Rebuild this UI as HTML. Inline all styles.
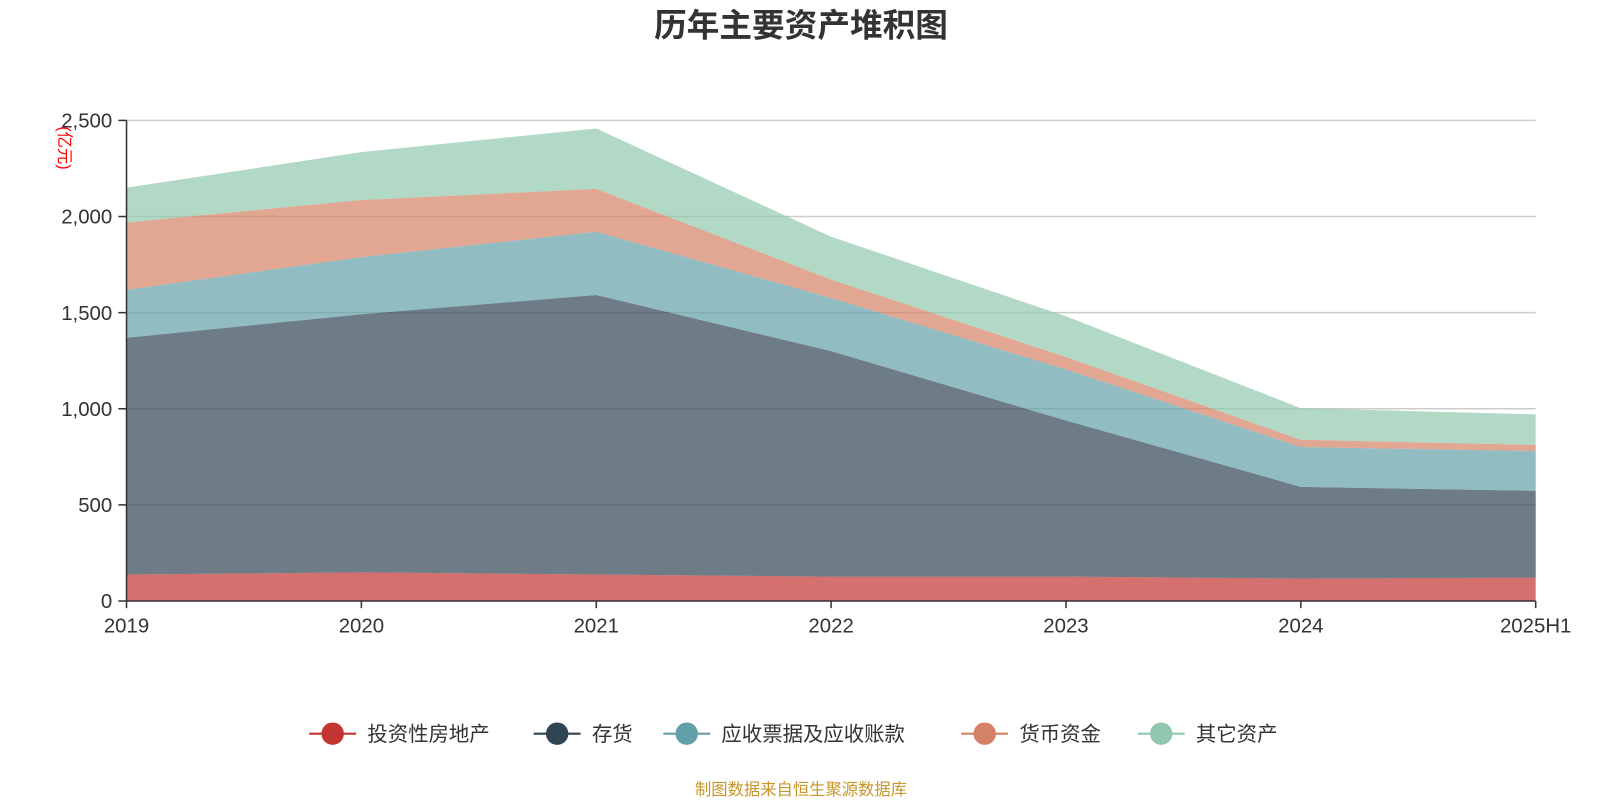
<!DOCTYPE html>
<html><head><meta charset="utf-8"><style>
body{margin:0;background:#fff;width:1600px;height:800px;overflow:hidden;font-family:"Liberation Sans","Noto Sans CJK SC",sans-serif;}
</style></head><body>
<svg id="chart" width="1600" height="800" xmlns="http://www.w3.org/2000/svg">
<g transform="scale(1.0204)">
<text x="785" y="36" text-anchor="middle" font-size="32" font-weight="bold" fill="#333" font-family="Liberation Sans, Noto Sans CJK SC, sans-serif">历年主要资产堆积图</text>
<text transform="translate(58,145) rotate(90)" text-anchor="middle" font-size="16" fill="#ff0000" font-family="Liberation Sans, Noto Sans CJK SC, sans-serif">(亿元)</text>
<g id="grid"></g><g id="areas"></g><g id="axes"></g><g id="legend"></g>
<text x="785" y="779" text-anchor="middle" font-size="16" fill="#c8962a" font-family="Liberation Sans, Noto Sans CJK SC, sans-serif">制图数据来自恒生聚源数据库</text>
</g>
</svg>
<script>
const categories=["2019","2020","2021","2022","2023","2024","2025H1"];
const seriesNames=["投资性房地产","存货","应收票据及应收账款","货币资金","其它资产"];
const invest=[138,149,138,127,127,117,122];
const inventory=[1231,1343,1454,1173,812,477,451];
const receivables=[250,297,329,276,266,207,207];
const cash=[350,297,223,96,64,38,32];
const other=[181,249,314,223,212,164,159];
const yTicks=[0,500,1000,1500,2000,2500];
const yTickLabels=["0","500","1,000","1,500","2,000","2,500"];
const series=[invest,inventory,receivables,cash,other];
const colors=["#c23531","#2f4554","#61a0a8","#d48265","#91c7ae"];
const NS="http://www.w3.org/2000/svg";
const x0=124,x1=1505,y0=589,y1=118,yMax=2500;
const xs=i=>x0+(x1-x0)*i/(categories.length-1);
const ys=v=>y0-(y0-y1)*v/yMax;
function mk(tag,attrs,parent){const e=document.createElementNS(NS,tag);for(const k in attrs)e.setAttribute(k,attrs[k]);parent.appendChild(e);return e;}
const grid=document.getElementById('grid'),areas=document.getElementById('areas'),axes=document.getElementById('axes'),legend=document.getElementById('legend');
yTicks.forEach((t,i)=>{
 if(t>0){const l=mk('line',{x1:x0,x2:x1,y1:ys(t),y2:ys(t),stroke:'#ccc','stroke-width':1.5},grid);
 
 }
 const tk=mk('line',{x1:x0-8,x2:x0,y1:ys(t),y2:ys(t),stroke:'#333','stroke-width':1.5},axes);
 
 
 const tx=mk('text',{x:x0-14,y:ys(t)+7,'text-anchor':'end','font-size':20,fill:'#333'},axes);
 tx.textContent=yTickLabels[i];
 
 
});
let base=categories.map(()=>0);
series.forEach((s,si)=>{
 const top=base.map((b,i)=>b+s[i]);
 let d='M'+top.map((v,i)=>xs(i)+','+ys(v)).join(' L');
 for(let i=categories.length-1;i>=0;i--)d+=' L'+xs(i)+','+ys(base[i]);
 d+='Z';
 const p=mk('path',{d:d,fill:colors[si],'fill-opacity':0.7,stroke:'none'},areas);
 
 
 base=top;
});
const ax=mk('line',{x1:x0,x2:x1,y1:y0,y2:y0,stroke:'#333','stroke-width':1.5},axes);


const ay=mk('line',{x1:x0,x2:x0,y1:y1,y2:y0,stroke:'#333','stroke-width':1.5},axes);


categories.forEach((c,i)=>{
 const tk=mk('line',{x1:xs(i),x2:xs(i),y1:y0,y2:y0+7,stroke:'#333','stroke-width':1.5},axes);
 
 
 const t=mk('text',{x:xs(i),y:y0+31,'text-anchor':'middle','font-size':20,fill:'#333'},axes);
 t.textContent=c;
 
 
});
const lx=[303,523,650,942,1115];
seriesNames.forEach((n,i)=>{
 const g=mk('g',{},legend);
 
 
 mk('line',{x1:lx[i],x2:lx[i]+46,y1:719,y2:719,stroke:colors[i],'stroke-width':2},g);
 mk('circle',{cx:lx[i]+23,cy:719,r:11,fill:colors[i]},g);
 const t=mk('text',{x:lx[i]+57,y:726,'font-size':20,fill:'#333'},g);
 t.textContent=n;
});
</script>
</body></html>
